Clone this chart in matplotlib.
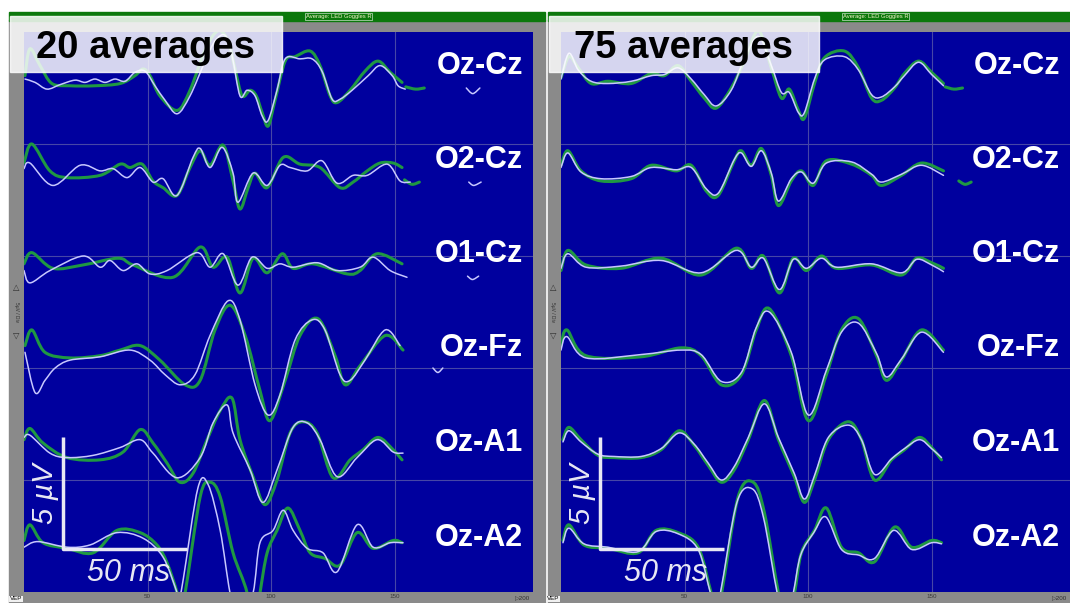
import matplotlib
matplotlib.use('Agg')
import matplotlib.pyplot as plt
from matplotlib.patches import Rectangle, PathPatch
from matplotlib.path import Path

plt.rcParams['font.family'] = ['Liberation Sans', 'DejaVu Sans']

# ---------- Data: time in ms, amplitude in uV relative to the channel baseline ----------

channels = ['Oz-Cz', 'O2-Cz', 'O1-Cz', 'Oz-Fz', 'Oz-A1', 'Oz-A2']
offsets = [22.6, 18.5, 14.4, 10.3, 6.2, 2.1]
panel_titles = ['20 averages', '75 averages']
tick_ms = [50, 100, 150]
header = 'Average: LED Goggles R'

# 20 averages (left panel)
l_ozcz_g = [(0.4, 0.45), (2.4, 1.65), (6.5, 0.9), (11.3, 0.1), (18.6, 0), (28.7, 0), (38.9, 0.1), (44.9, 0.45),
            (48.2, 0.75), (51, 0.45), (55, -0.45), (62, -1.1), (67.2, -0.2), (73.3, 1.6), (78.5, 2.45), (82.6, 2.0),
            (85.4, 0.75), (88.3, -0.45), (91.5, -0.2), (94, -0.45), (96.4, -1.2), (98.8, -1.8), (101.6, -0.65),
            (105.7, 1.1), (109.7, 1.3), (115.8, 1.55), (119.8, 0.9), (123.9, -0.45), (126.7, -0.75), (132, -0.2),
            (138, 0.65), (143.3, 1.1), (148.2, 0.6), (153, 0.15)]
l_ozcz_w = [(0.4, 0.3), (4.5, 0.15), (9.3, -0.15), (14.6, 0.05), (20.6, 0.25), (24.7, 0.15), (28.7, 0.3), (32.8, 0.15),
            (36.8, 0.3), (40.9, 0.2), (44.9, 0.6), (49, 0.65), (53, 0), (57.1, -0.65), (62, -1.25), (67.2, -0.45),
            (73.3, 1.1), (77.3, 2.0), (81.4, 2.25), (84.2, 1.35), (87.4, -0.45), (90.3, -0.2), (93.5, -0.45),
            (96.4, -1.35), (98.8, -1.55), (102.4, -0.2), (105.7, 1.2), (111.7, 1.2), (116.6, 1.2), (120.6, 0.65),
            (124.7, -0.6), (127.9, -0.6), (132.8, -0.2), (139.3, 0.45), (144.1, 0.9), (149, 0.45), (151.4, 0),
            (154.3, -0.15)]
l_o2cz_g = [(0, 0.65), (3.2, 1.5), (10.5, 0.3), (17.4, 0), (30.8, 0.1), (38.9, 0.6), (42.9, 0.45), (47.8, 0.6),
            (52.2, -0.15), (56.3, -0.45), (61.9, -0.8), (67.2, 0.45), (71.3, 1.2), (75.3, 0.55), (80.6, 1.45),
            (84.6, -0.15), (87.4, -1.4), (90.7, -0.45), (93.5, 0.2), (98.4, -0.45), (104.9, 0.9), (111.7, 0.6),
            (119.8, 0.45), (127.9, -0.45), (133.2, -0.2), (138.9, 0.3), (144.1, 0.65), (149.4, 0.65), (153, 0.45)]
l_o2cz_w = [(0, 0.4), (2.4, 0.65), (11.7, -0.35), (22.7, 0.55), (30.8, 0.3), (36, 0.4), (41.7, 0), (47, 0.45),
            (52.2, -0.2), (56.3, -0.05), (61.9, -0.8), (68.4, 0.9), (71.3, 1.3), (75.3, 0.45), (80.2, 1.35),
            (84.6, 0.2), (86.6, -1.1), (92.7, 0.2), (98.4, -0.35), (103.6, 0.55), (107.7, 0.45), (114.6, 0.3),
            (120.6, 0.75), (126.7, -0.25), (133.2, 0.1), (138.9, 0.1), (147, 0.6), (152.2, -0.15), (156.3, -0.2)]
l_o1cz_g = [(0, 0.25), (3.2, 0.75), (11.7, 0.05), (23.9, 0.2), (38.1, 0.5), (44.1, 0.2), (60.3, -0.35), (71.3, 1.0),
            (76.5, 0.1), (82.2, 0.55), (87.4, -1.05), (92.7, 0.5), (98.4, -0.15), (104.5, 0.7), (108.9, 0.05),
            (117, 0.25), (130.8, -0.2), (136, -0.05), (142.9, 0.7), (153, 0.25)]
l_o1cz_w = [(0, -0.05), (2.4, -0.6), (10.5, -0.05), (23.9, 0.6), (30.8, 0.1), (34.8, 0.4), (40.1, -0.05),
            (45.7, 0.25), (51, -0.2), (57.9, -0.05), (70, 0.75), (75.3, 0.1), (80.6, 0.7), (86.6, -0.7), (92.3, 0.55),
            (98.4, 0.05), (103.6, 0.25), (108.9, 0.1), (118.6, 0.3), (126.7, -0.05), (136, 0.1), (141.3, 0.55),
            (148.2, -0.05), (155, -0.35)]
l_ozfz_g = [(0.4, 0.7), (3.2, 1.4), (8.5, 0.4), (18.6, 0.15), (30.8, 0.25), (38.9, 0.5), (47, 0.7), (55, 0.05),
            (65.2, -1.05), (71.3, -0.85), (77.3, 1.4), (83.4, 2.5), (89.5, 1.15), (95.5, -1.3), (99.6, -2.65),
            (105.7, -0.85), (111.7, 1.15), (119, 1.9), (125.9, 0.25), (130, -1.05), (136, -0.2), (146.2, 1.15),
            (153.4, 0.5)]
l_ozfz_w = [(0.4, 0.4), (4.5, -1.4), (8.5, -0.85), (12.6, -0.3), (18.6, 0.05), (30.8, 0.2), (42.9, 0.5), (51, 0.05),
            (57.1, -0.6), (63.2, -1.05), (69.2, -0.6), (75.3, 1.15), (82.6, 2.7), (87.4, 1.85), (93.5, -1.05),
            (98.8, -2.4), (103.6, -1.5), (109.7, 0.95), (116.6, 1.85), (121.8, 1.4), (127.9, -0.6), (132, -0.85),
            (138, 0.05), (146.2, 1.4), (152.2, 0.7)]
l_oza1_g = [(0, 0.6), (2.4, 1.1), (7.7, 0.45), (17.4, -0.2), (30.8, -0.3), (40.1, 0.05), (47, 1.05), (52.2, 0.45),
            (57.9, -0.45), (63.1, -1.3), (68.4, -0.9), (74.1, 0.6), (79.4, 1.9), (84.2, 2.45), (87.4, 0.6),
            (92.7, -1.05), (97.5, -2.3), (102.4, -1.2), (107.7, 0.9), (112.9, 1.4), (118.6, 0.9), (125.1, -1.1),
            (132, -0.3), (137.2, 0.15), (143.3, 0.7), (149.4, 0.15), (153, -0.3)]
l_oza1_w = [(0, 0.7), (2.4, 0.8), (10.5, 0), (17.4, -0.2), (28, -0.1), (38.9, 0.25), (47, 0.6), (52.2, 0),
            (61.9, -1.1), (71.3, -0.2), (76.5, 1.35), (82.2, 2.15), (84.6, 0.9), (91.5, -0.75), (96.7, -2.2),
            (102.4, -0.75), (108.9, 1.15), (114.6, 1.35), (119.8, 0.6), (126.7, -1.05), (134.8, -0.2), (142.9, 0.6),
            (149.4, 0.05), (153.4, 0)]
l_oza2_g = [(0, 0.2), (2.4, 0.9), (7.7, 0.1), (17.4, -0.15), (28, -0.35), (37.6, 0.65), (47, 0.55), (53.8, 0),
            (57.9, -0.8), (62, -2.15), (63.1, -2.9), (65.2, -2.15), (71.3, 2.15), (75.3, 2.8), (79.4, 2.15),
            (84.6, -0.35), (90.3, -2.15), (92.7, -4.2), (95.5, -2.15), (98.4, -0.35), (102.4, 0.65), (106.8, 1.65),
            (111.7, 0.65), (115.8, -0.35), (121.8, -0.6), (127.9, -0.9), (134.8, 0.55), (141.3, -0.15),
            (149.4, 0.2), (153, 0.1)]
l_oza2_w = [(0, -0.1), (5.5, 0.15), (17.4, -0.1), (26.7, 0), (37.6, 0.55), (48.2, 0.3), (56.3, -0.55), (62, -2.15),
            (62.7, -2.5), (64.5, -1.5), (70.4, 2.55), (74.5, 2.7), (79.4, 0.65), (83.4, -2.15), (87.4, -3.8),
            (92.7, -2.15), (95.5, 0.1), (100.8, 0.65), (104.9, 1.55), (108.9, 0.65), (114.6, -0.15), (121, -0.35),
            (126.7, -1.2), (134.8, 0.9), (141.3, -0.1), (148.2, 0.1), (153.4, 0.1)]

# short stray fragments to the right of the traces: (channel index, trace kind, points)
l_tails = [(0, 'g', [(154.5, -0.05), (158.5, -0.15), (162, -0.1)]),
           (0, 'w', [(179, -0.1), (181.6, -0.35), (184.5, -0.1)]),
           (1, 'g', [(154, -0.1), (157, -0.3), (160, -0.2)]),
           (1, 'w', [(180, -0.2), (182, -0.35), (185, -0.2)]),
           (2, 'w', [(179.5, -0.3), (181.5, -0.45), (184, -0.3)]),
           (3, 'w', [(165.5, -0.3), (167.5, -0.5), (169.5, -0.3)])]

# 75 averages (right panel)
r_ozcz_g = [(0, 0.35), (3.2, 1.3), (7, 0.8), (12.2, 0.1), (19, 0.2), (28.4, 0.1), (36.5, 0.55), (41.8, 0.45),
            (47.4, 0.9), (52.7, 0.2), (58, -0.55), (62.8, -1.0), (68.9, -0.1), (74.2, 1.1), (79.9, 2.45), (85.1, 0.8),
            (89.2, -0.55), (92.4, -0.15), (96.1, -1.1), (98.5, -1.45), (102.6, 0.1), (106.6, 1.25), (114.7, 1.55),
            (120.4, 0.8), (125.7, -0.55), (129.7, -0.65), (135, -0.1), (139, 0.55), (144.7, 1.1), (150, 0.6),
            (154.8, 0.1)]
r_ozcz_w = [(0, 0.3), (3.2, 1.45), (7, 0.7), (12.2, 0.2), (19, 0.1), (28.4, 0.2), (36.5, 0.45), (41.8, 0.5),
            (47.4, 0.8), (52.7, 0.3), (58, -0.4), (62.8, -0.9), (68.9, -0.2), (74.2, 1.2), (79.9, 2.2), (85.1, 0.9),
            (89.2, -0.3), (92.4, -0.3), (96.1, -1.2), (98.5, -1.2), (102.6, 0.3), (106.6, 1.15), (114.7, 1.3),
            (120.4, 0.7), (125.7, -0.4), (129.7, -0.5), (135, -0.05), (139, 0.45), (144.7, 1.05), (150, 0.5),
            (154.8, 0.0)]
r_o2cz_g = [(0, 0.55), (2.8, 1.2), (8.1, 0.3), (16.2, -0.15), (28.4, -0.05), (36.5, 0.55), (46.6, 0.3), (52.7, 0.55),
            (58.8, -0.6), (63.6, -0.8), (70.1, 0.75), (73, 1.2), (77, 0.55), (81.1, 1.3), (85.1, 0.1), (88, -1.25),
            (93.2, -0.15), (97.3, 0.3), (102.1, -0.35), (107.4, 0.75), (117.6, 0.6), (125.7, 0.1), (129.7, -0.35),
            (137.8, 0.1), (145.9, 0.65), (154.8, 0.3)]
r_o2cz_w = [(0, 0.45), (2.8, 1.1), (8.1, 0.25), (16.2, -0.05), (28.4, 0.05), (36.5, 0.45), (46.6, 0.35), (52.7, 0.45),
            (58.8, -0.5), (63.6, -0.7), (70.1, 0.8), (73, 1.1), (77, 0.5), (81.1, 1.2), (85.1, 0.2), (88, -1.05),
            (93.2, -0.05), (97.3, 0.25), (102.1, -0.25), (107.4, 0.65), (117.6, 0.7), (125.7, 0.15), (129.7, -0.2),
            (137.8, 0.15), (145.9, 0.55), (154.8, 0.1)]
r_o1cz_g = [(0, -0.05), (2.8, 0.85), (10.1, 0.2), (24.3, 0.05), (40.5, 0.5), (56.7, -0.25), (70.9, 0.95), (77, 0.05),
            (81.9, 0.6), (88.4, -1.05), (94, 0.5), (99.3, -0.05), (105.4, 0.6), (111.5, 0.05), (125.7, 0.2),
            (137.8, -0.25), (143.9, 0.5), (150, 0.3), (154.8, 0.05)]
r_o1cz_w = [(0, 0.05), (2.8, 0.7), (10.1, 0.1), (24.3, 0.15), (40.5, 0.4), (56.7, -0.15), (70.9, 0.85), (77, 0.1),
            (81.9, 0.5), (88.4, -0.9), (94, 0.45), (99.3, 0.05), (105.4, 0.5), (111.5, 0.1), (125.7, 0.25),
            (137.8, -0.15), (143.9, 0.45), (150, 0.2), (154.8, -0.1)]
r_ozfz_g = [(0, 0.7), (2.4, 1.4), (10.1, 0.25), (32.4, 0.2), (48.6, 0.6), (56.7, 0.25), (64.9, -1.05), (73, -0.6),
            (79, 1.4), (84.3, 2.35), (93.2, 0.25), (100.1, -2.65), (107.4, -0.6), (113.5, 1.4), (120.4, 1.9),
            (127.7, 0.25), (131.7, -0.85), (137.8, 0.05), (145.9, 1.4), (154.8, 0.5)]
r_ozfz_w = [(0, 0.5), (2.4, 1.1), (10.1, 0.15), (32.4, 0.3), (48.6, 0.5), (56.7, 0.3), (64.9, -0.9), (73, -0.5),
            (79, 1.5), (84.3, 2.2), (93.2, 0.4), (100.1, -2.4), (107.4, -0.4), (113.5, 1.3), (120.4, 1.7),
            (127.7, 0.35), (131.7, -0.7), (137.8, 0.1), (145.9, 1.3), (154.8, 0.4)]
r_oza1_g = [(0.8, 0.6), (3.2, 1.15), (8.1, 0.6), (15, -0.1), (21.5, -0.2), (32.4, -0.2), (40.5, 0.15), (47.8, 1.0),
            (53.9, 0.35), (59.6, -0.55), (64.9, -1.3), (70.1, -0.75), (75.8, 0.6), (82.3, 2.35), (88, 0.6),
            (94.4, -1.05), (98.5, -2.2), (102.6, -1.2), (108.2, 0.6), (116.3, 1.4), (121.6, 0.6), (126.9, -1.2),
            (133.8, -0.3), (139, 0.15), (145.1, 0.7), (150, 0.25), (154, -0.3)]
r_oza1_w = [(0.8, 0.5), (3.2, 1.0), (8.1, 0.5), (15, -0.05), (21.5, -0.15), (32.4, -0.15), (40.5, 0.2), (47.8, 0.9),
            (53.9, 0.4), (59.6, -0.45), (64.9, -1.2), (70.1, -0.6), (75.8, 0.7), (82.3, 2.2), (88, 0.7),
            (94.4, -0.9), (98.5, -2.05), (102.6, -1.0), (108.2, 0.7), (116.3, 1.25), (121.6, 0.6), (126.9, -0.95),
            (133.8, -0.25), (139, 0.2), (145.1, 0.6), (150, 0.2), (154, -0.2)]
r_oza2_g = [(0.8, 0.2), (3.2, 0.9), (9.3, 0), (19, -0.15), (31.2, -0.35), (38.5, 0.65), (47.4, 0.55), (55.5, -0.1),
            (60.8, -2.15), (63, -2.8), (65, -2.15), (71.7, 2.15), (77.8, 2.8), (82.3, 1.45), (88, -2.15),
            (91.5, -3.6), (94.5, -2.15), (97.3, -0.35), (102.6, 0.65), (107.4, 1.65), (113.5, -0.1), (120.4, -0.35),
            (126.9, -0.75), (135, 0.8), (141.9, -0.1), (150, 0.2), (154, 0.1)]
r_oza2_w = [(0.8, 0.1), (3.2, 0.75), (9.3, 0.05), (19, -0.1), (31.2, -0.3), (38.5, 0.6), (47.4, 0.5), (55.5, -0.2),
            (60.5, -2.15), (62.5, -2.7), (64.5, -2.15), (71.2, 1.9), (77.5, 2.5), (82, 1.2), (87.5, -2.15),
            (91, -3.5), (94, -2.15), (97.0, -0.45), (102.3, 0.55), (107.2, 1.25), (113.5, -0.2), (120.4, -0.45),
            (126.9, -0.6), (134.6, 0.65), (141.9, -0.2), (150, 0.1), (154, 0.05)]

r_tails = [(0, 'g', [(155.5, -0.05), (159, -0.15), (162.5, -0.1)]),
           (1, 'g', [(161, -0.15), (163.5, -0.3), (166, -0.2)])]

left_green = [l_ozcz_g, l_o2cz_g, l_o1cz_g, l_ozfz_g, l_oza1_g, l_oza2_g]
left_white = [l_ozcz_w, l_o2cz_w, l_o1cz_w, l_ozfz_w, l_oza1_w, l_oza2_w]
right_green = [r_ozcz_g, r_o2cz_g, r_o1cz_g, r_ozfz_g, r_oza1_g, r_oza2_g]
right_white = [r_ozcz_w, r_o2cz_w, r_o1cz_w, r_ozfz_w, r_oza1_w, r_oza2_w]

# ---------- Styling ----------

BLUE = '#00009e'
GRAY = '#8a8a8a'
GREEN_BAR = '#0b780b'
TRACE_GREEN = '#1f9842'
TRACE_WHITE = '#c8c8ff'
GRID = '#4646a6'
SCALE = '#e8e8f4'
LABEL_Y = [23.5, 19.3, 15.1, 10.9, 6.65, 2.4]   # channel label centres, uV on the axis

W, H = 1070, 603


def frect(x0, y0, x1, y1):
    # pixel box (top-left origin) -> figure fraction [l, b, w, h]
    return [x0 / W, 1 - y1 / H, (x1 - x0) / W, (y1 - y0) / H]


def add_box(x0, y0, x1, y1, **kw):
    l, b, w, h = frect(x0, y0, x1, y1)
    fig.add_artist(Rectangle((l, b), w, h, transform=fig.transFigure, **kw))


def smooth_path(pts, off):
    # draw a smooth curve through the read points (Catmull-Rom as cubic Bezier)
    xs = [p[0] for p in pts]
    ys = [off + p[1] for p in pts]
    n = len(xs)
    verts = [(xs[0], ys[0])]
    codes = [Path.MOVETO]
    for i in range(n - 1):
        i0, i2, i3 = max(i - 1, 0), i + 1, min(i + 2, n - 1)
        c1 = (xs[i] + (xs[i2] - xs[i0]) / 6, ys[i] + (ys[i2] - ys[i0]) / 6)
        c2 = (xs[i2] - (xs[i3] - xs[i]) / 6, ys[i2] - (ys[i3] - ys[i]) / 6)
        verts += [c1, c2, (xs[i2], ys[i2])]
        codes += [Path.CURVE4] * 3
    return Path(verts, codes)


TRACE_STYLE = {'g': dict(ec=TRACE_GREEN, lw=2.2, zorder=3), 'w': dict(ec=TRACE_WHITE, lw=1.1, zorder=4)}


def add_trace(ax, pts, off, kind):
    ax.add_patch(PathPatch(smooth_path(pts, off), fill=False, joinstyle='round', capstyle='round',
                           **TRACE_STYLE[kind]))


fig = plt.figure(figsize=(W / 100, H / 100), dpi=100)
fig.patch.set_facecolor('white')


def draw_panel(x0, x1, cl, cr, greens, whites, tails, title):
    # window chrome
    add_box(cl, 20, cr, H, color=GRAY, zorder=0)
    add_box(cl, 12, cr, 21, color=GREEN_BAR, zorder=1)
    mid = (x0 + x1) / 2 + 60
    fig.text(mid / W, 1 - 16.5 / H, header, fontsize=4.2, color='#f4f4c8', ha='center', va='center',
             bbox=dict(boxstyle='square,pad=0.15', fc=GREEN_BAR, ec='#c8e0c8', lw=0.5), zorder=2)

    ax = fig.add_axes(frect(x0, 32, x1, 592))
    ax.set_facecolor(BLUE)
    ax.set_xlim(0, 206)
    ax.set_ylim(0, 25)
    ax.set_xticks(tick_ms)
    ax.set_xticklabels([str(t) for t in tick_ms])
    ax.set_yticks([5, 10, 15, 20])
    ax.set_yticklabels([])
    ax.tick_params(axis='both', length=0)
    ax.tick_params(axis='x', labelsize=4.5, pad=1.5, labelcolor='#3a3a3a')
    ax.grid(True, color=GRID, lw=0.8)
    ax.set_axisbelow(True)
    for s in ax.spines.values():
        s.set_visible(False)

    for off, gtr, wtr, name, ly in zip(offsets, greens, whites, channels, LABEL_Y):
        add_trace(ax, gtr, off, 'g')
        add_trace(ax, wtr, off, 'w')
        ax.text(202, ly, name, color='white', fontsize=22, fontweight='bold', ha='right', va='center',
                zorder=6)
    for idx, kind, pts in tails:
        add_trace(ax, pts, offsets[idx], kind)

    # scale bars: 5 uV x 50 ms
    ax.plot([15.8, 15.8, 65.8], [6.9, 1.9, 1.9], color=SCALE, lw=2.5, zorder=5, solid_capstyle='butt')
    ax.text(8.3, 4.4, '5 \u00b5V', rotation=90, color=SCALE, fontsize=21, style='italic', ha='center',
            va='center', zorder=6)
    ax.text(42.5, 0.85, '50 ms', color=SCALE, fontsize=22, style='italic', ha='center', va='center', zorder=6)

    # side bar bits
    fig.text((x0 - 8) / W, 1 - 289 / H, '\u25b3', fontsize=6, color='#303030', ha='center', va='center')
    fig.text((x0 - 8) / W, 1 - 336 / H, '\u25bd', fontsize=6, color='#303030', ha='center', va='center')
    fig.text((x0 - 8) / W, 1 - 312 / H, '5\u00b5V / Div', fontsize=3.5, color='#303030', rotation=270,
             ha='center', va='center')
    fig.text((x0 - 14) / W, 1 - 599 / H, 'VEP', fontsize=4.5, color='black', ha='left', va='center',
             bbox=dict(boxstyle='square,pad=0.1', fc='#f0f0f0', ec='none'))
    fig.text((x1 - 18) / W, 1 - 598 / H, '\u25b7200', fontsize=4.5, color='#303030', ha='left', va='center')

    # translucent title box
    add_box(cl + 1, 16, x0 + 258, 72, color='white', alpha=0.84, zorder=10)
    fig.text((x0 + 122) / W, 1 - 58 / H, title, fontsize=27.5, fontweight='bold', color='black',
             ha='center', va='baseline', zorder=11)
    return ax


draw_panel(24, 533, 9, 545, left_green, left_white, l_tails, panel_titles[0])
draw_panel(561, 1070, 548, 1070, right_green, right_white, r_tails, panel_titles[1])

fig.savefig('out.png', dpi=100)
